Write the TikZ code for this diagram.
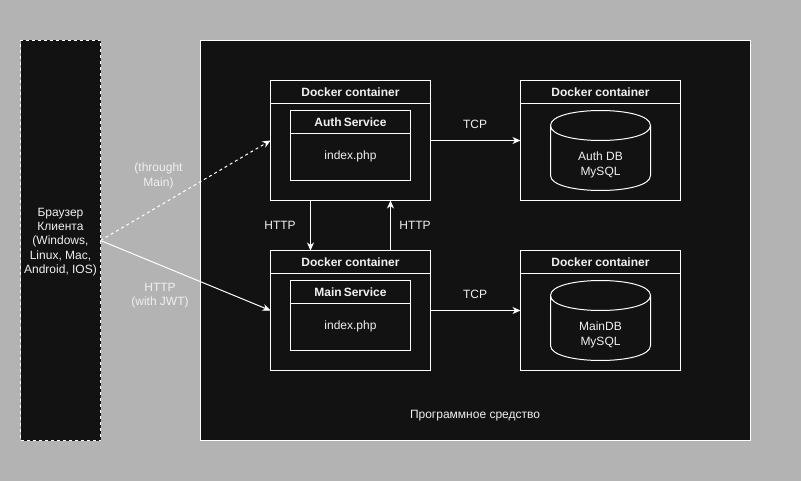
\documentclass[tikz,border=0pt]{standalone}
\usepackage{fontspec}
\setmainfont{Liberation Sans}
\usepackage{xcolor}
\usepackage{tikz}
\usetikzlibrary{arrows.meta,positioning,calc}
\definecolor{pagegray}{HTML}{B3B3B3}
\definecolor{boxblack}{HTML}{121212}
\definecolor{inkwhite}{HTML}{F0F0F0}
\newcommand{\drumlines}[1]{%
    \draw[drumline] ([yshift=-15pt]#1.north west) .. controls ([yshift=5pt]#1.north west) and ([yshift=5pt]#1.north east) .. ([yshift=-15pt]#1.north east)
        .. controls ([yshift=-35pt]#1.north east) and ([yshift=-35pt]#1.north west) .. ([yshift=-15pt]#1.north west)
        -- ([yshift=15pt]#1.south west) .. controls ([yshift=-5pt]#1.south west) and ([yshift=-5pt]#1.south east) .. ([yshift=15pt]#1.south east)
        -- ([yshift=-15pt]#1.north east);}

\begin{document}
\begin{tikzpicture}[
                x=1pt, y=-1pt,
                font=\fontsize{12}{14.4}\selectfont,
                every node/.style={text=inkwhite, inner sep=0pt, outer sep=0pt},
                zone/.style={draw=white, fill=boxblack, line width=1pt, align=center},
                container/.style={draw=white, line width=1pt, minimum width=160pt, minimum height=120pt},
                service/.style={draw=white, line width=1pt, minimum width=120pt, minimum height=70pt},
                titlebar/.style={draw=white, line width=1pt, minimum height=23pt, font=\fontsize{12}{14.4}\selectfont\bfseries},
                database/.style={minimum width=100pt, minimum height=80pt, align=center},
                drumline/.style={draw=white, line width=1pt, line join=round},
                tag/.style={align=center},
                bus/.style={-{Stealth[length=8pt, width=7pt, inset=2.5pt]}, draw=white, line width=1pt}
            ]
            \fill[pagegray] (0,0) rectangle (801,481);
            \useasboundingbox (0,0) rectangle (801,481);

            \node[zone, dashed, minimum width=80pt, minimum height=400pt] (client) at (60.5,240.5) {};
            \node[tag] (clientname) at (60.5,242) {Браузер\\Клиента\\(Windows,\\Linux, Mac,\\Android, IOS)};
            \node[zone, minimum width=550pt, minimum height=400pt] (system) at (475.5,240.5) {};
            \node (systemname) at (475,416) {Программное средство};

            \node[container] (authbox) at (350.5,140.5) {};
            \node[titlebar, minimum width=160pt, anchor=north] (authbar) at (authbox.north) {Docker container};
            \node[service] (authsvc) at (350.5,145.5) {};
            \node[titlebar, minimum width=120pt, anchor=north] (authname) at (authsvc.north) {Auth\,Service};
            \node[below=17pt of authname] (authphp) {index.php};

            \node[container] (mainbox) at (350.5,310.5) {};
            \node[titlebar, minimum width=160pt, anchor=north] (mainbar) at (mainbox.north) {Docker container};
            \node[service] (mainsvc) at (350.5,315.5) {};
            \node[titlebar, minimum width=120pt, anchor=north] (mainname) at (mainsvc.north) {Main\,Service};
            \node[below=17pt of mainname] (mainphp) {index.php};

            \node[container] (authdbbox) at (600.5,140.5) {};
            \node[titlebar, minimum width=160pt, anchor=north] (authdbbar) at (authdbbox.north) {Docker container};
            \node[database] (authdb) at (600.5,150.5) {};
            \drumlines{authdb}
            \node[tag] (authdbname) at (600.5,165) {Auth DB\\MySQL};

            \node[container] (maindbbox) at (600.5,310.5) {};
            \node[titlebar, minimum width=160pt, anchor=north] (maindbbar) at (maindbbox.north) {Docker container};
            \node[database] (maindb) at (600.5,320.5) {};
            \drumlines{maindb}
            \node[tag] (maindbname) at (600.5,335) {MainDB\\MySQL};

            \draw[bus, dashed] (client.east) -- (authbox.west);
            \draw[bus] (client.east) -- (mainbox.west);
            \draw[bus] (authbox.east) -- (authdbbox.west);
            \draw[bus] (mainbox.east) -- (maindbbox.west);
            \draw[bus] ($(authbox.south west)!0.25!(authbox.south east)$) -- ($(mainbox.north west)!0.25!(mainbox.north east)$);
            \draw[bus] ($(mainbox.north west)!0.75!(mainbox.north east)$) -- ($(authbox.south west)!0.75!(authbox.south east)$);

            \node[tag] (thruname) at (158.5,176) {(throught\\Main)};
            \node[tag] (jwtname) at (160,295.5) {HTTP\\(with JWT)};
            \node[tag] (downname) at (280,225) {HTTP};
            \node[tag] (upname) at (415,225) {HTTP};
            \node[tag] (authtcp) at (475,124.5) {TCP};
            \node[tag] (maintcp) at (475,294.5) {TCP};
        \end{tikzpicture}
\end{document}
